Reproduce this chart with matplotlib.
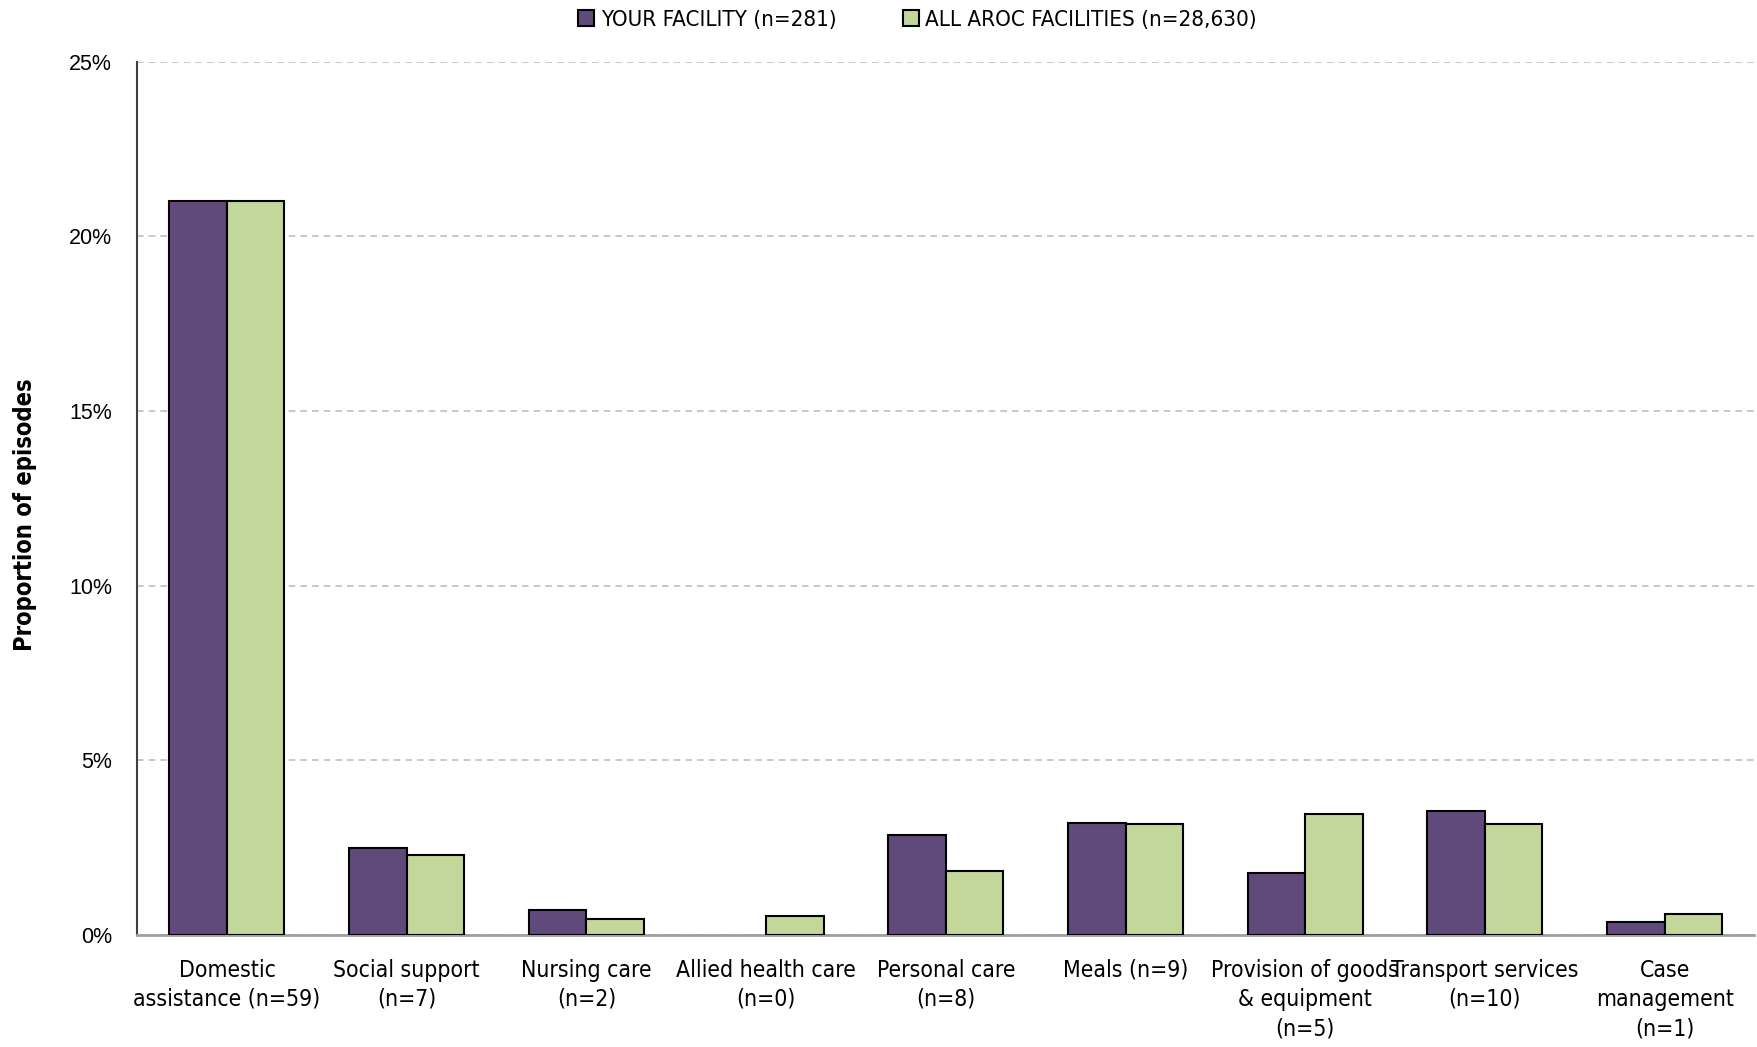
import matplotlib.pyplot as plt
import numpy as np
from matplotlib.ticker import PercentFormatter

categories = ["Domestic\nassistance (n=59)", "Social support\n(n=7)", "Nursing care\n(n=2)",
              "Allied health care\n(n=0)", "Personal care\n(n=8)", "Meals (n=9)",
              "Provision of goods\n& equipment\n(n=5)", "Transport services\n(n=10)",
              "Case\nmanagement\n(n=1)"]
facility = [21.0, 2.49, 0.71, 0.0, 2.85, 3.20, 1.78, 3.56, 0.36]
all_aroc = [21.0, 2.28, 0.45, 0.55, 1.82, 3.18, 3.47, 3.18, 0.61]
series_names = ["YOUR FACILITY (n=281)", "ALL AROC FACILITIES (n=28,630)"]

PURPLE = "#604A7B"
GREEN = "#C4D79B"
W = 0.32
narrow = dict(family="DejaVu Sans", stretch="condensed")

fig = plt.figure(figsize=(17.58, 10.47), dpi=100)
ax = fig.add_axes([0.078, 0.107, 0.920, 0.834])

x = np.arange(len(categories))
# no outline on empty bars
lw_f = [1.5 if v > 0 else 0 for v in facility]
lw_a = [1.5 if v > 0 else 0 for v in all_aroc]
ax.bar(x - W/2, facility, W, color=PURPLE, edgecolor="black", linewidth=lw_f, label=series_names[0], zorder=3)
ax.bar(x + W/2, all_aroc, W, color=GREEN, edgecolor="black", linewidth=lw_a, label=series_names[1], zorder=3)

ax.set_xlim(-0.5, len(categories) - 0.5)
ax.set_ylim(0, 25)
ax.set_yticks(range(0, 26, 5))
ax.yaxis.set_major_formatter(PercentFormatter(decimals=0))
ax.grid(axis="y", color="#BFBFBF", linestyle=(0, (4, 3)), linewidth=1.2, zorder=0)

ax.set_xticks(x)
ax.set_xticklabels(categories, fontsize=16.5, linespacing=1.35, **narrow)
ax.tick_params(axis="x", length=0, pad=17)
ax.tick_params(axis="y", length=0, pad=18)
for t in ax.get_yticklabels():
    t.set_family("Liberation Sans")
    t.set_fontsize(15.5)

for s in ["top", "right"]:
    ax.spines[s].set_visible(False)
ax.spines["left"].set_color("#404040")
ax.spines["left"].set_linewidth(1.5)
ax.spines["bottom"].set_color("#A0A0A0")
ax.spines["bottom"].set_linewidth(2)

ax.set_ylabel("Proportion of episodes", fontsize=17, fontweight="bold", **narrow)
ax.yaxis.set_label_coords(-0.062, 0.481)

leg = fig.legend(loc="upper center", bbox_to_anchor=(0.522, 1.01), ncol=2, frameon=False,
                 prop=dict(size=16, **narrow), handlelength=0.7, handleheight=0.7,
                 handletextpad=0.3, columnspacing=3)
for h in leg.legend_handles:
    h.set_linewidth(1.5)

fig.savefig("out.png", dpi=100)
